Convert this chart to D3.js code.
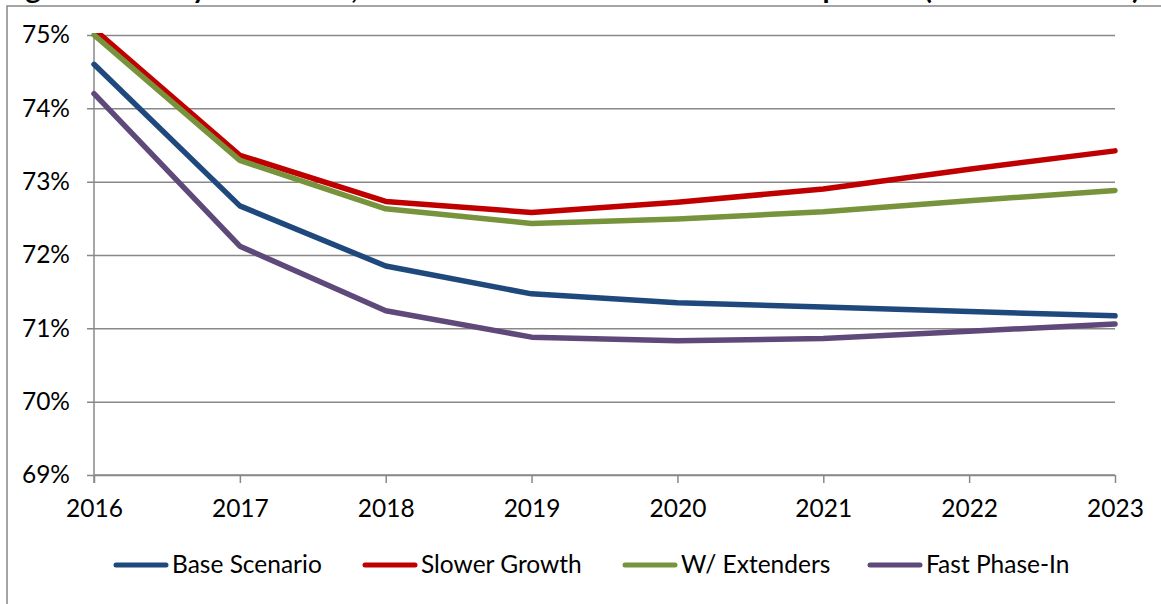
<!DOCTYPE html>
<html>
<head>
<meta charset="utf-8">
<script src="https://cdn.jsdelivr.net/npm/d3@7"></script>
<style>
  body { margin: 0; background: #fff; }
  text { font-family: Lato, "Open Sans", sans-serif; }
</style>
</head>
<body>
<div id="chart"></div>
<script>
const width = 1161
const height = 604
const margin = { top: 35, right: 46, bottom: 129, left: 94 }
const chartWidth = width - margin.left - margin.right
const chartHeight = height - margin.top - margin.bottom
const fontSize = "24.5px"

// data (percent)
const years = [2016, 2017, 2018, 2019, 2020, 2021, 2022, 2023]
const baseScenario = [74.60, 72.67, 71.85, 71.47, 71.35, 71.29, 71.23, 71.17]
const slowerGrowth = [75.08, 73.36, 72.73, 72.58, 72.72, 72.90, 73.17, 73.42]
const wExtenders   = [75.00, 73.29, 72.63, 72.43, 72.49, 72.59, 72.74, 72.88]
const fastPhaseIn  = [74.20, 72.12, 71.24, 70.88, 70.83, 70.86, 70.96, 71.06]
const yTicks = [69, 70, 71, 72, 73, 74, 75]
const seriesNames = ["Base Scenario", "Slower Growth", "W/ Extenders", "Fast Phase-In"]
const titleText = "Figure 3. Outlay Share Rate, All Scenarios Versus Base Case Comparison (Percent of Total)"

const colors = ["#1f497d", "#c00000", "#77933c", "#5f497a"]
const gridColor = "#888888"

const series = [baseScenario, slowerGrowth, wExtenders, fastPhaseIn].map((vals, i) => ({
    name: seriesNames[i],
    color: colors[i],
    values: vals.map((v, j) => ({ year: years[j], value: v }))
}))

let svg = d3.select("#chart").append("svg")
    .attr("width", width)
    .attr("height", height)

// title, mostly cut off at the top edge (as in the source image)
svg.append("text")
    .attr("x", 2)
    .attr("y", -1)
    .attr("font-size", "26px")
    .attr("font-weight", "bold")
    .attr("fill", "#000")
    .attr("textLength", 1138)
    .attr("lengthAdjust", "spacingAndGlyphs")
    .text(titleText)

// outer chart frame
svg.append("rect")
    .attr("x", 7)
    .attr("y", 6)
    .attr("width", width + 20)
    .attr("height", height + 20)
    .attr("fill", "none")
    .attr("stroke", gridColor)
    .attr("stroke-width", 1.5)

let chart = svg.append("g").attr("transform", `translate(${margin.left}, ${margin.top})`)

let xScale = d3.scalePoint().domain(years).range([0, chartWidth])
let yScale = d3.scaleLinear().domain([69, 75]).range([chartHeight, 0])

// gridlines + y axis
let yAxis = d3.axisLeft(yScale)
    .tickValues(yTicks)
    .tickSize(-chartWidth)
    .tickFormat(d => d + "%")

let yAxisG = chart.append("g").attr("class", "yAxis").call(yAxis)
yAxisG.select(".domain").remove()
yAxisG.selectAll(".tick line")
    .attr("x1", -7)
    .attr("stroke", gridColor)
    .attr("stroke-width", 1.5)
yAxisG.selectAll(".tick text")
    .attr("x", -24)
    .attr("font-size", fontSize)
    .attr("font-family", "Lato, sans-serif")
    .attr("fill", "#000")

// x axis
let xAxis = d3.axisBottom(xScale).tickSize(8).tickPadding(17)
let xAxisG = chart.append("g")
    .attr("class", "xAxis")
    .attr("transform", `translate(0, ${chartHeight})`)
    .call(xAxis)
xAxisG.select(".domain")
    .attr("stroke", gridColor)
    .attr("stroke-width", 1.5)
    .attr("d", `M0,0H${chartWidth}`)
xAxisG.selectAll(".tick line")
    .attr("stroke", gridColor)
    .attr("stroke-width", 1.5)
xAxisG.selectAll(".tick text")
    .attr("font-size", fontSize)
    .attr("font-family", "Lato, sans-serif")
    .attr("fill", "#000")

// vertical axis line
chart.append("line")
    .attr("x1", 0).attr("x2", 0)
    .attr("y1", 0).attr("y2", chartHeight + 8)
    .attr("stroke", gridColor)
    .attr("stroke-width", 1.5)

// clip so lines don't go above the plot
svg.append("defs").append("clipPath")
    .attr("id", "plotClip")
    .append("rect")
    .attr("x", -10)
    .attr("y", -2)
    .attr("width", chartWidth + 20)
    .attr("height", chartHeight + 4)

let line = d3.line()
    .x(d => xScale(d.year))
    .y(d => yScale(d.value))

chart.append("g")
    .attr("clip-path", "url(#plotClip)")
    .selectAll("path")
    .data(series)
    .join("path")
    .attr("fill", "none")
    .attr("stroke", d => d.color)
    .attr("stroke-width", 5.5)
    .attr("stroke-linejoin", "round")
    .attr("stroke-linecap", "round")
    .attr("d", d => line(d.values))

// legend
const legendX = [114, 363, 623, 868]
let legend = svg.append("g").attr("transform", "translate(0, 565)")
let entries = legend.selectAll("g")
    .data(series)
    .join("g")
    .attr("transform", (d, i) => `translate(${legendX[i]}, 0)`)

entries.append("line")
    .attr("x1", 2).attr("x2", 52)
    .attr("y1", 0).attr("y2", 0)
    .attr("stroke", d => d.color)
    .attr("stroke-width", 5)
    .attr("stroke-linecap", "round")

entries.append("text")
    .attr("x", 58)
    .attr("y", 8)
    .attr("font-size", fontSize)
    .attr("fill", "#000")
    .text(d => d.name)
</script>
</body>
</html>
